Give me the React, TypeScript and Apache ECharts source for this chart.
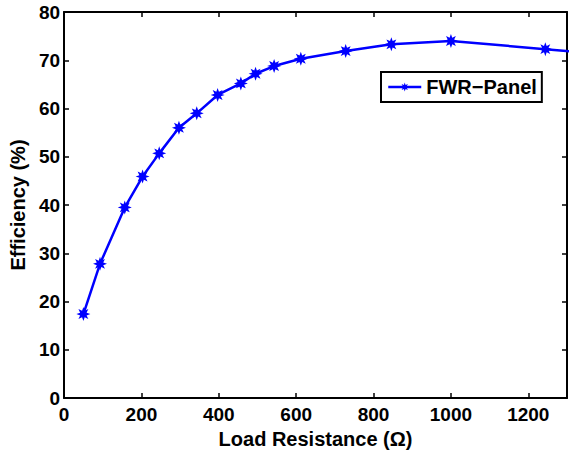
import React, { useEffect, useRef } from "react";
import * as echarts from "echarts";

const resistance = [50, 93, 157, 203, 246, 297, 343, 397, 457, 495, 543, 612, 728, 846, 1000, 1244, 1500];
const efficiency = [17.4, 27.8, 39.5, 45.9, 50.7, 56.0, 59.0, 62.8, 65.2, 67.2, 68.8, 70.3, 71.9, 73.3, 74.0, 72.3, 70.5];
const xTicks = [0, 200, 400, 600, 800, 1000, 1200];
const seriesName = "FWR−Panel";

const STAR =
  "path://M20 10 L14.6 11.9 L17.07 17.07 L11.9 14.6 L10 20 L8.1 14.6 L2.93 17.07 L5.4 11.9 L0 10 L5.4 8.1 L2.93 2.93 L8.1 5.4 L10 0 L11.9 5.4 L17.07 2.93 L14.6 8.1 Z";

export default function App() {
  const ref = useRef<HTMLDivElement>(null);
  useEffect(() => {
    if (!ref.current) return;
    const chart = echarts.init(ref.current, undefined, { renderer: "svg" });
    const font = "Liberation Sans, Arial, sans-serif";
    const axisLine = { show: true, onZero: false, lineStyle: { color: "#000", width: 2 } };
    const axisTick = { show: true, inside: true, length: 5, lineStyle: { color: "#000", width: 1.5 } };
    const tickStyle = { color: "#000", fontFamily: font, fontWeight: "bold" as const, fontSize: 19 };
    const titleStyle = { color: "#000", fontFamily: font, fontWeight: "bold" as const, fontSize: 20 };
    const xFmt = (v: number) => (xTicks.includes(v) ? String(v) : "");
    chart.setOption({
      animation: false,
      backgroundColor: "#fff",
      grid: { left: 64, top: 12, right: 3, bottom: 57, containLabel: false },
      legend: {
        left: 381,
        top: 72,
        orient: "horizontal",
        backgroundColor: "#fff",
        borderColor: "#000",
        borderWidth: 2,
        borderRadius: 0,
        padding: [5, 5, 5, 6],
        itemWidth: 33,
        itemHeight: 11,
        itemGap: 4,
        lineStyle: { width: 2.5, color: "#0000ff" },
        textStyle: { ...titleStyle },
        data: [{ name: seriesName }],
      },
      xAxis: [
        {
          type: "value",
          position: "bottom",
          min: 0,
          max: 1300,
          interval: 200,
          axisLine,
          axisTick,
          splitLine: { show: false },
          axisLabel: { ...tickStyle, margin: 7, formatter: xFmt, showMaxLabel: false },
          name: "Load Resistance (Ω)",
          nameLocation: "middle",
          nameGap: 26,
          nameTextStyle: { ...titleStyle },
        },
        {
          type: "value",
          position: "top",
          min: 0,
          max: 1300,
          interval: 200,
          axisLine,
          axisTick,
          splitLine: { show: false },
          axisLabel: { show: false },
        },
      ],
      yAxis: [
        {
          type: "value",
          position: "left",
          min: 0,
          max: 80,
          interval: 10,
          axisLine,
          axisTick,
          splitLine: { show: false },
          axisLabel: { ...tickStyle, margin: 4 },
          name: "Efficiency (%)",
          nameLocation: "middle",
          nameGap: 32,
          nameRotate: 90,
          nameTextStyle: { ...titleStyle },
        },
        {
          type: "value",
          position: "right",
          min: 0,
          max: 80,
          interval: 10,
          axisLine,
          axisTick,
          splitLine: { show: false },
          axisLabel: { show: false },
        },
      ],
      series: [
        {
          name: seriesName,
          type: "line",
          xAxisIndex: 0,
          yAxisIndex: 0,
          clip: true,
          data: resistance.map((r, i) => [r, efficiency[i]]),
          symbol: STAR,
          symbolSize: 14,
          showAllSymbol: true,
          lineStyle: { color: "#0000ff", width: 2.5 },
          itemStyle: { color: "#0000ff" },
        },
      ],
    });
    return () => chart.dispose();
  }, []);
  return (
    <div
      ref={ref}
      style={{ position: "fixed", left: 0, top: 0, width: 570, height: 455, background: "#fff" }}
    />
  );
}
